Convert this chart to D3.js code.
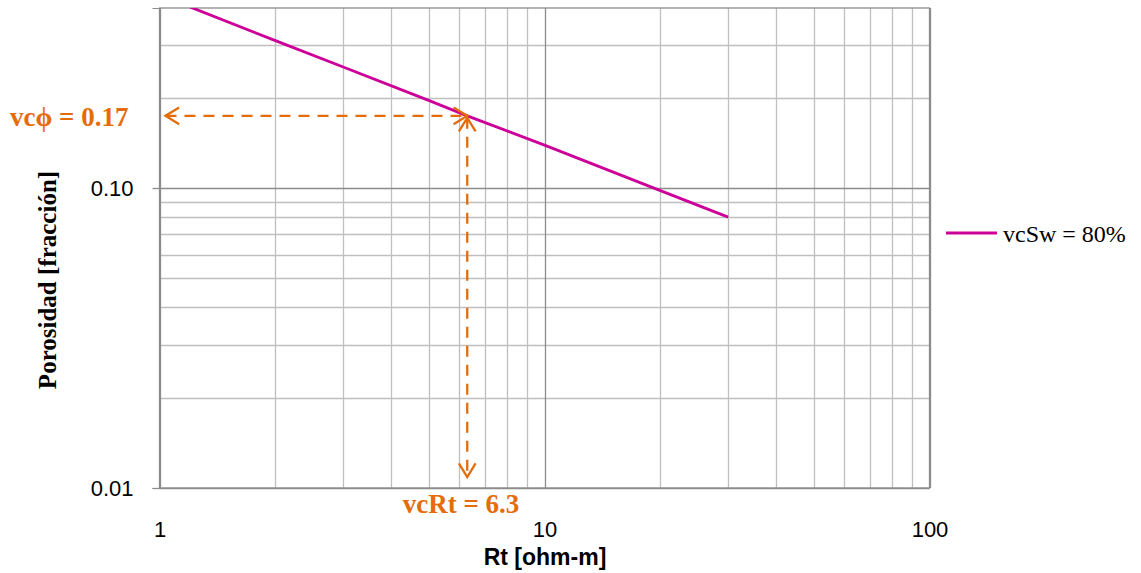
<!DOCTYPE html>
<html><head><meta charset="utf-8">
<script src="https://cdn.jsdelivr.net/npm/d3@7"></script>
<style>body{margin:0;background:#fff}svg{display:block}</style>
</head><body>
<svg id="c" width="1141" height="573"></svg>
<script>
const rtValues  = [1, 2, 3, 5, 6.3, 10, 20, 30];
const phiValues = [0.44, 0.31, 0.253, 0.196, 0.174, 0.139, 0.098, 0.080];
const seriesName = "vcSw = 80%";
const xTicks = [1, 10, 100];
const yTicks = [0.01, 0.1];
const xMinor = [2,3,4,5,6,7,8,9,20,30,40,50,60,70,80,90];
const yMinor = [0.02,0.03,0.04,0.05,0.06,0.07,0.08,0.09,0.2,0.3];
const markRt = 6.3, markPhi = 0.174;
const markRtLabel = "vcRt = 6.3", markPhiLabel = "vcϕ = 0.17";

const svg = d3.select("#c");
const L = 159.5, R = 929.5, T = 8, B = 488;
const x = d3.scaleLog().domain([1, 100]).range([L, R]);
const y = d3.scaleLog().domain([0.01, 0.1 * Math.pow(10, 180/300)]).range([B, T]);
const orange = "#E46C0A", mag = "#CC0099";
const sans = "'Liberation Sans', Arial, sans-serif";
const serif = "'Liberation Serif', 'Times New Roman', serif";

const g = svg.append("g");
// minor grid
g.selectAll(".xm").data(xMinor).join("line")
  .attr("x1", d => Math.round(x(d)) + 0.5).attr("x2", d => Math.round(x(d)) + 0.5)
  .attr("y1", T).attr("y2", B).attr("stroke", "#bfbfbf").attr("stroke-width", 1.3);
g.selectAll(".ym").data(yMinor).join("line")
  .attr("y1", d => Math.round(y(d)) + 0.5).attr("y2", d => Math.round(y(d)) + 0.5)
  .attr("x1", L).attr("x2", R).attr("stroke", "#bfbfbf").attr("stroke-width", 1.3);
// major grid
g.selectAll(".xM").data(xTicks).join("line")
  .attr("x1", d => Math.round(x(d)) + 0.5).attr("x2", d => Math.round(x(d)) + 0.5)
  .attr("y1", T).attr("y2", B).attr("stroke", "#8c8c8c").attr("stroke-width", 1.3);
g.selectAll(".yM").data(yTicks).join("line")
  .attr("y1", d => Math.round(y(d)) + 0.5).attr("y2", d => Math.round(y(d)) + 0.5)
  .attr("x1", L).attr("x2", R).attr("stroke", "#8c8c8c").attr("stroke-width", 1.3);
// frame
g.append("rect").attr("x", L).attr("y", T).attr("width", R - L).attr("height", B - T)
  .attr("fill", "none").attr("stroke", "#8c8c8c").attr("stroke-width", 1.3);

// axes
const yAxis = d3.axisLeft(y).tickValues(yTicks).tickFormat(d3.format(".2f")).tickSize(7).tickPadding(19);
const ya = svg.append("g").attr("transform", `translate(${L},0)`).call(yAxis);
ya.attr("font-size", null).attr("font-family", null);
ya.select(".domain").attr("stroke", "#8c8c8c");
ya.selectAll(".tick line").attr("stroke", "#8c8c8c").attr("stroke-width", 1.3);
ya.selectAll("text").style("font-family", sans).style("font-size", "22px").attr("fill", "#000");

const xAxis = d3.axisBottom(x).tickValues(xTicks).tickFormat(d3.format("d")).tickSize(0).tickPadding(33);
const xa = svg.append("g").attr("transform", `translate(0,${B})`).call(xAxis);
xa.attr("font-size", null).attr("font-family", null);
xa.select(".domain").remove();
xa.selectAll("text").style("font-family", sans).style("font-size", "22px").attr("fill", "#000");

// axis titles
svg.append("text").attr("x", 545).attr("y", 565).attr("text-anchor", "middle")
  .style("font-family", sans).style("font-weight", "bold").style("font-size", "23px")
  .text("Rt [ohm-m]");
svg.append("text").attr("transform", "translate(56,280) rotate(-90)").attr("text-anchor", "middle")
  .style("font-family", serif).style("font-weight", "bold").style("font-size", "25px")
  .text("Porosidad [fracción]");

// clip
svg.append("clipPath").attr("id", "clip").append("rect").attr("x", L).attr("y", T).attr("width", R - L).attr("height", B - T);

const data = rtValues.map((r, i) => [r, phiValues[i]]);
svg.append("path").datum(data).attr("clip-path", "url(#clip)")
  .attr("d", d3.line().x(d => x(d[0])).y(d => y(d[1])))
  .attr("fill", "none").attr("stroke", mag).attr("stroke-width", 2.8);

// dashed arrows
const mx = x(markRt), my = y(markPhi);
function arrow(x1, y1, x2, y2) {
  svg.append("line").attr("x1", x1).attr("y1", y1).attr("x2", x2).attr("y2", y2)
    .attr("stroke", orange).attr("stroke-width", 2.3).attr("stroke-dasharray", "11,8");
  const head = (tx, ty, ang) => {
    const s = 16, a = 0.55;
    const p1 = [tx - s * Math.cos(ang - a), ty - s * Math.sin(ang - a)];
    const p2 = [tx - s * Math.cos(ang + a), ty - s * Math.sin(ang + a)];
    svg.append("path").attr("d", `M${p1}L${tx},${ty}L${p2}`).attr("fill", "none")
      .attr("stroke", orange).attr("stroke-width", 2.3);
  };
  const ang = Math.atan2(y2 - y1, x2 - x1);
  head(x2, y2, ang);
  head(x1, y1, ang + Math.PI);
}
arrow(L + 6, my, mx, my);
arrow(mx, my + 2, mx, B - 11);

svg.append("text").attr("x", 10).attr("y", 126)
  .style("font-family", serif).style("font-weight", "bold").style("font-size", "27px")
  .attr("fill", orange).text(markPhiLabel);
svg.append("text").attr("x", 461).attr("y", 513).attr("text-anchor", "middle")
  .style("font-family", serif).style("font-weight", "bold").style("font-size", "27px")
  .attr("fill", orange).text(markRtLabel);

// legend
svg.append("line").attr("x1", 946).attr("x2", 997).attr("y1", 233).attr("y2", 233)
  .attr("stroke", mag).attr("stroke-width", 2.8);
svg.append("text").attr("x", 1003).attr("y", 242)
  .style("font-family", serif).style("font-size", "24px")
  .text(seriesName);
</script>
</body></html>
